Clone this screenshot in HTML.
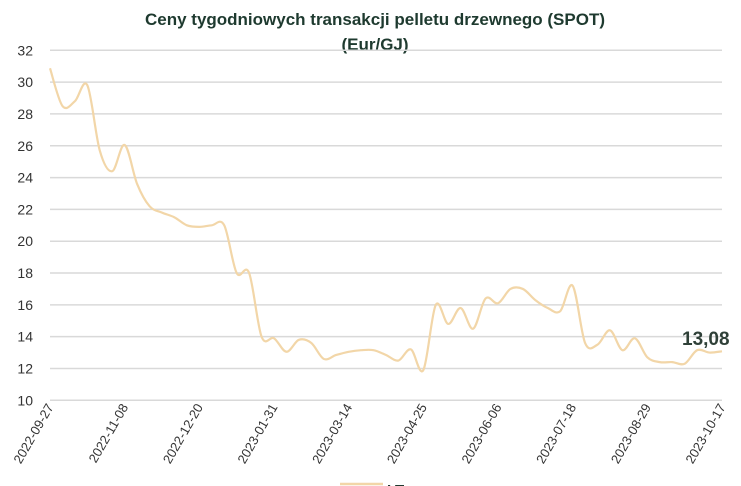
<!DOCTYPE html>
<html><head><meta charset="utf-8"><style>
html,body{margin:0;padding:0;background:#fff;}
svg{display:block;font-family:"Liberation Sans",sans-serif;}
</style></head><body>
<svg id="chart" width="741" height="486" viewBox="0 0 741 486">
<text x="375" y="25" text-anchor="middle" font-size="17" font-weight="bold" fill="#1e3a2f">Ceny tygodniowych transakcji pelletu drzewnego (SPOT)</text>
<text x="375" y="50" text-anchor="middle" font-size="17" font-weight="bold" fill="#1e3a2f">(Eur/GJ)</text>
<g id="grid"></g><g id="yticks"></g><g id="xticks"></g><g id="series"></g>
<text x="682" y="345" font-size="19" font-weight="bold" fill="#2f4038">13,08</text>
<line x1="340" y1="484" x2="383" y2="484" stroke="#f2d6a8" stroke-width="2.5"/>
<text x="387" y="495" font-size="15" font-weight="bold" fill="#1e3a2f">LT</text>
</svg>
<script>
const values = [30.87,28.5,28.8,29.8,25.7,24.4,26.05,23.6,22.2,21.8,21.5,21.0,20.9,21.0,21.0,18.0,18.0,14.0,13.9,13.05,13.8,13.6,12.6,12.85,13.05,13.15,13.15,12.85,12.5,13.2,11.9,16.0,14.8,15.8,14.5,16.4,16.1,17.0,17.0,16.3,15.8,15.6,17.2,13.6,13.5,14.4,13.15,13.9,12.7,12.4,12.4,12.3,13.15,13.0,13.08];
const xLabels = ["2022-09-27","2022-11-08","2022-12-20","2023-01-31","2023-03-14","2023-04-25","2023-06-06","2023-07-18","2023-08-29","2023-10-17"];
const xLabelIdx = [0,6,12,18,24,30,36,42,48,54];
const yTicks = [10,12,14,16,18,20,22,24,26,28,30,32];
const NS="http://www.w3.org/2000/svg";
const X0=50,X1=722,Y0=400.3,Y1=50.3,YMIN=10,YMAX=32;
const xs=i=>X0+i*(X1-X0)/(values.length-1);
const ys=v=>Y0-(v-YMIN)/(YMAX-YMIN)*(Y0-Y1);
function mk(t,a){const e=document.createElementNS(NS,t);for(const k in a)e.setAttribute(k,a[k]);return e;}
const grid=document.getElementById('grid'),yt=document.getElementById('yticks'),xt=document.getElementById('xticks'),sr=document.getElementById('series');
yTicks.forEach(v=>{
 const l=mk('line',{x1:X0,x2:X1,y1:ys(v),y2:ys(v),stroke:'#d9d9d9','stroke-width':1.5});
 
 
 grid.appendChild(l);
 const t=mk('text',{x:33,y:ys(v)+5,'text-anchor':'end','font-size':14,fill:'#333'});
 
 
 t.textContent=v;yt.appendChild(t);
});
xLabels.forEach((s,k)=>{
 const x=xs(xLabelIdx[k])+4,y=407;
 const t=mk('text',{x:x,y:y,'text-anchor':'end','font-size':13,fill:'#333',transform:`rotate(-60 ${x} ${y})`});
 
 
 t.textContent=s;xt.appendChild(t);
});
const P=values.map((v,i)=>[xs(i),ys(v)]);
let d=`M${P[0][0]},${P[0][1]}`;
for(let i=0;i<P.length-1;i++){
 const p0=P[Math.max(i-1,0)],p1=P[i],p2=P[i+1],p3=P[Math.min(i+2,P.length-1)];
 const c1=[p1[0]+(p2[0]-p0[0])/6,p1[1]+(p2[1]-p0[1])/6],c2=[p2[0]-(p3[0]-p1[0])/6,p2[1]-(p3[1]-p1[1])/6];
 d+=` C${c1[0]},${c1[1]} ${c2[0]},${c2[1]} ${p2[0]},${p2[1]}`;
}
const path=mk('path',{d:d,fill:'none',stroke:'#f2d6a8','stroke-width':2.2,'stroke-linejoin':'round'});


sr.appendChild(path);
</script>
</body></html>
